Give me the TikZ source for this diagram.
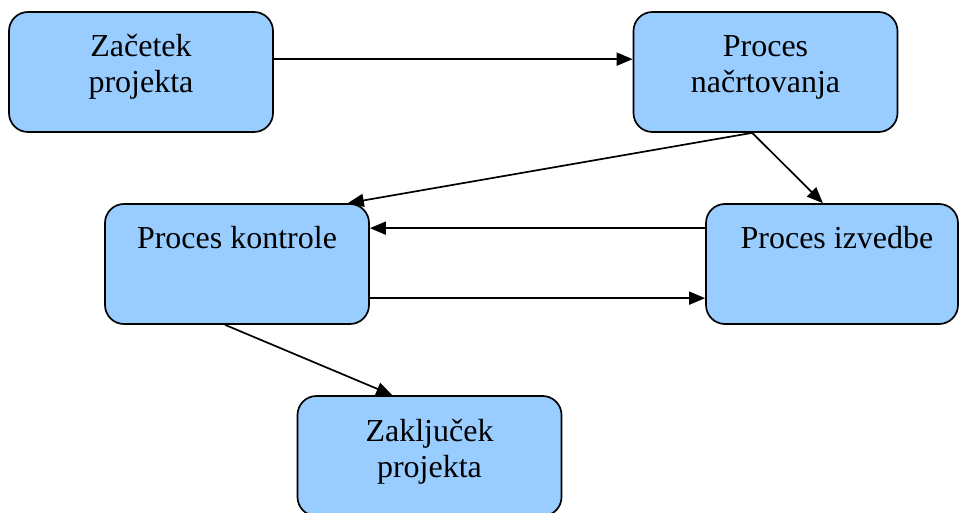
\documentclass[tikz,border=0pt]{standalone}
\usepackage{fontspec}
\setmainfont{Liberation Serif}
\usetikzlibrary{arrows.meta,calc}
\definecolor{boxblue}{HTML}{99CCFF}
\begin{document}
\begin{tikzpicture}[x=1pt,y=1pt,
  procbox/.style={draw=black, line width=1.7pt, fill=boxblue, rounded corners=19pt,
    minimum width=264pt, minimum height=120pt, inner sep=0pt, align=center,
    font=\fontsize{32}{36}\selectfont, text height=60pt, text depth=18pt},
  flow/.style={line width=1.7pt, -{Triangle[length=16pt,width=13pt]}}]
\useasboundingbox (0,0) rectangle (959,512);

% process boxes (every label has two lines, so all boxes share one layout)
\node[procbox] (zac) at (141,440) {Začetek\\projekta};
\node[procbox] (nac) at (765.5,440) {Proces\\načrtovanja};
\node[procbox] (kon) at (237,248) {Proces kontrole\\\mbox{}};
\node[procbox, minimum width=252pt] (izv) at (832,248) {\hspace*{10pt}Proces izvedbe\\\mbox{}};
\node[procbox] (zak) at (429.5,56) {Zaključek\\projekta};

% attachment points on the box borders
\coordinate (zacE) at ($(zac.north east)+(0,-48)$);
\coordinate (nacW) at ($(nac.north west)+(0,-48)$);
\coordinate (nacS) at ($(nac.south west)!0.45!(nac.south east)$);
\coordinate (konN) at ($(kon.north west)!0.917!(kon.north east)$);
\coordinate (izvN) at ($(izv.north west)!0.464!(izv.north east)$);
\coordinate (konEa) at ($(kon.north east)+(0,-25)$);
\coordinate (konEb) at ($(kon.north east)+(0,-95)$);
\coordinate (izvWa) at ($(izv.north west)+(0,-25)$);
\coordinate (izvWb) at ($(izv.north west)+(0,-95)$);
\coordinate (konS) at ($(kon.south west)!0.455!(kon.south east)$);
\coordinate (zakN) at ($(zak.north west)!0.36!(zak.north east)$);

% connectors
\draw[flow] (zacE) -- (nacW);
\draw[flow] (nacS) -- (konN);
\draw[flow] (nacS) -- (izvN);
\draw[flow] (izvWa) -- (konEa);
\draw[flow] (konEb) -- (izvWb);
\draw[flow] (konS) -- (zakN);
\end{tikzpicture}
\end{document}
